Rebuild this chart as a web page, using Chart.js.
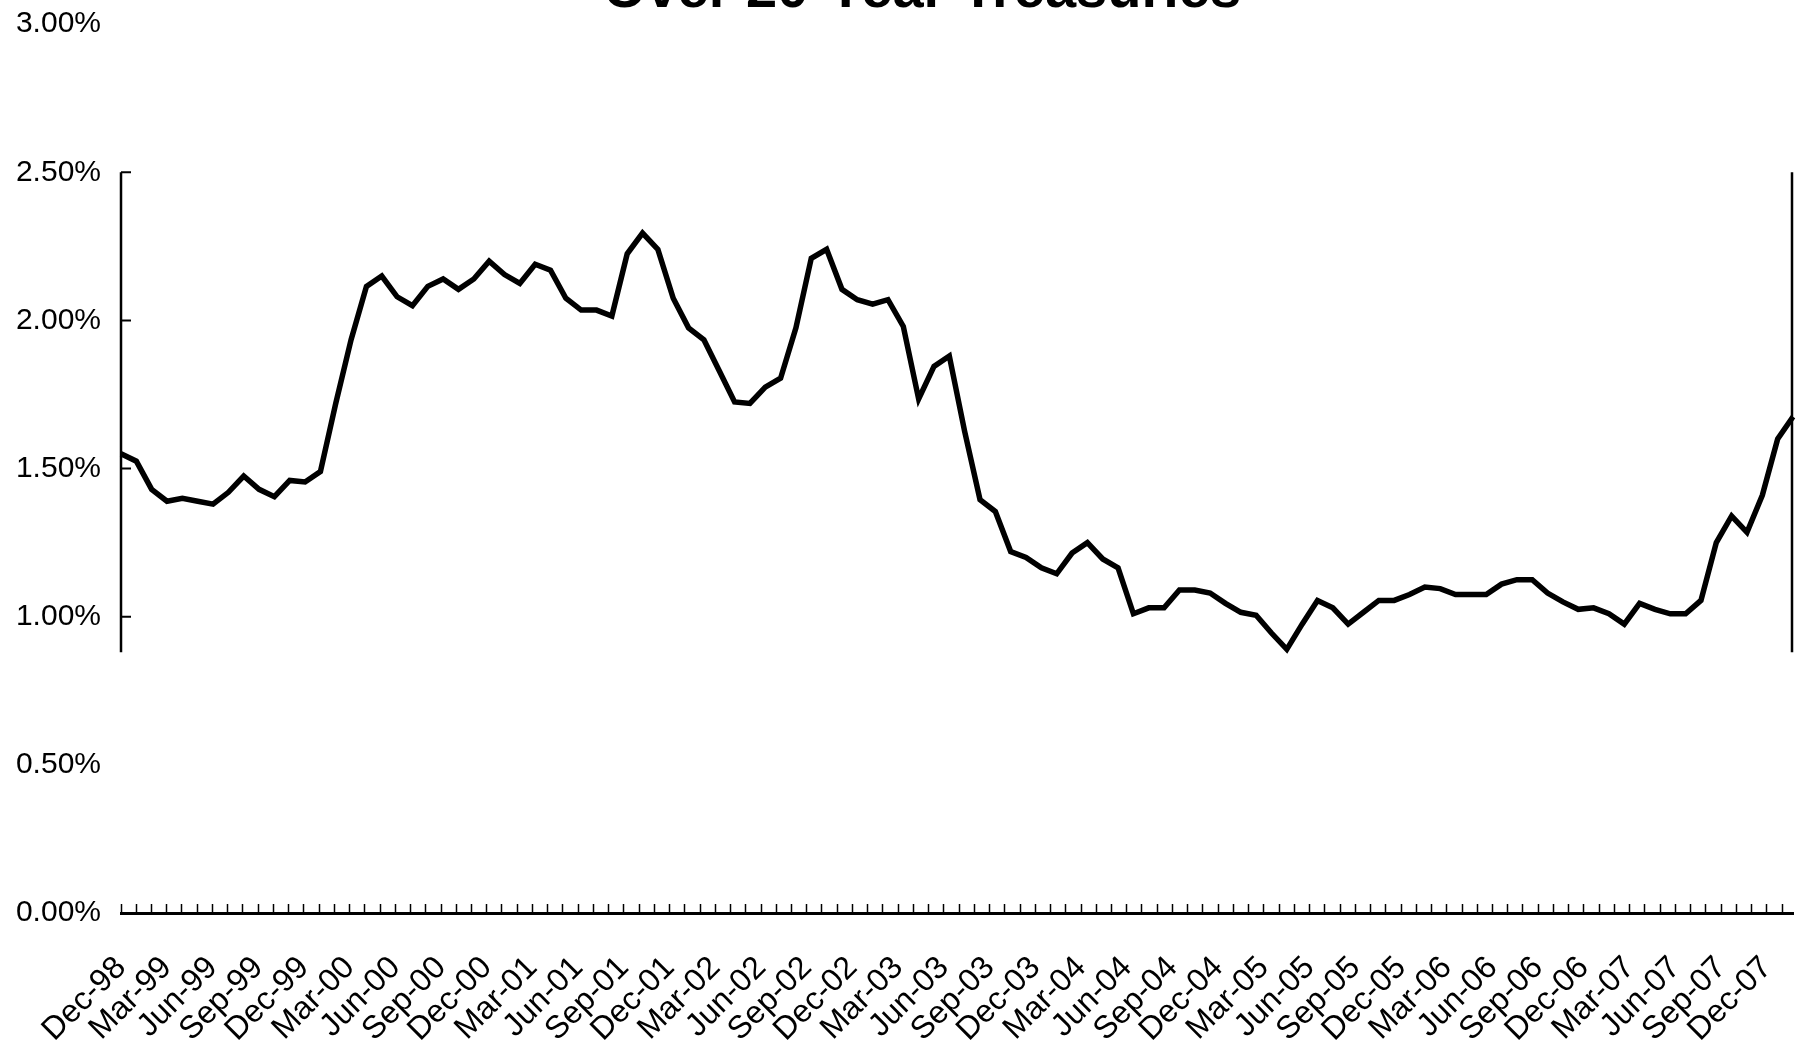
<!DOCTYPE html>
<html>
<head>
<meta charset="utf-8">
<title>Over 20-Year Treasuries</title>
<script src="https://cdn.jsdelivr.net/npm/chart.js@4.4.0/dist/chart.umd.min.js"></script>
<style>
    html, body { margin: 0; padding: 0; background: #fff; }
    #wrap { width: 1796px; height: 1045px; position: relative; }
</style>
</head>
<body>
<div id="wrap"><canvas id="lineChart"></canvas></div>
<script>
// monthly points, Dec-98 .. Jan-08
var monthNames = ['Jan', 'Feb', 'Mar', 'Apr', 'May', 'Jun', 'Jul', 'Aug', 'Sep', 'Oct', 'Nov', 'Dec'];
var startYear = 1998;
var startMonth = 11;

var spreadValues = [
    1.55, 1.525, 1.43, 1.39, 1.40, 1.39, 1.38, 1.42, 1.475, 1.43,
    1.405, 1.46, 1.455, 1.49, 1.72, 1.935, 2.115, 2.15, 2.08, 2.05,
    2.115, 2.14, 2.105, 2.14, 2.20, 2.155, 2.125, 2.19, 2.17, 2.075,
    2.035, 2.035, 2.015, 2.225, 2.295, 2.24, 2.075, 1.975, 1.935, 1.83,
    1.725, 1.72, 1.775, 1.805, 1.975, 2.21, 2.24, 2.105, 2.07, 2.055,
    2.07, 1.98, 1.735, 1.845, 1.88, 1.625, 1.395, 1.355, 1.22, 1.20,
    1.165, 1.145, 1.215, 1.25, 1.195, 1.165, 1.01, 1.03, 1.03, 1.09,
    1.09, 1.08, 1.045, 1.015, 1.005, 0.945, 0.89, 0.975, 1.055, 1.03,
    0.975, 1.015, 1.055, 1.055, 1.075, 1.10, 1.095, 1.075, 1.075, 1.075,
    1.11, 1.125, 1.125, 1.08, 1.05, 1.025, 1.03, 1.01, 0.975, 1.045,
    1.025, 1.01, 1.01, 1.055, 1.25, 1.34, 1.285, 1.41, 1.60, 1.675
];

var yMin = 0;
var yMax = 3;
var yStep = 0.5;
var axisTickValues = [2.5, 2.0, 1.5, 1.0];
var axisSpan = [2.5, 0.88];

// the printed month axis is a bit shorter than the plotted line
var monthAxisMax = 109.72;
var labelEvery = 3;

var labels = [];
for (var i = 0; i < spreadValues.length; i++) {
    var m = startMonth + i;
    var yr = (startYear + Math.floor(m / 12)) % 100;
    labels.push(monthNames[m % 12] + '-' + (yr < 10 ? '0' + yr : '' + yr));
}

var fontFamily = "'Liberation Sans', Arial, sans-serif";
var titleCenterX = 922;

// the scanned y axis only runs part of the way, with inward ticks
var partialAxes = {
    id: 'partialAxes',
    afterLayout: function(chart) {
        var tb = chart.titleBlock;
        if (tb) {
            tb.left = 2 * titleCenterX - tb.right;
        }
    },
    afterDatasetsDraw: function(chart) {
        var ctx = chart.ctx;
        var y = chart.scales.y;
        var area = chart.chartArea;
        var top = y.getPixelForValue(axisSpan[0]);
        var bottom = y.getPixelForValue(axisSpan[1]);
        ctx.save();
        ctx.strokeStyle = '#000';
        ctx.lineWidth = 2.5;
        ctx.beginPath();
        ctx.moveTo(area.left, top);
        ctx.lineTo(area.left, bottom);
        ctx.moveTo(area.right - 1, top);
        ctx.lineTo(area.right - 1, bottom);
        ctx.stroke();
        ctx.lineWidth = 2;
        ctx.beginPath();
        axisTickValues.forEach(function(v) {
            var py = y.getPixelForValue(v);
            ctx.moveTo(area.left, py);
            ctx.lineTo(area.left + 10, py);
        });
        ctx.stroke();
        ctx.restore();
    }
};

var ctx = document.getElementById('lineChart');
var chart = new Chart(ctx, {
    type: 'line',
    data: {
        labels: labels,
        datasets: [{
            label: 'Spread',
            data: spreadValues,
            borderColor: '#000',
            borderWidth: 5.5,
            pointRadius: 0,
            tension: 0,
            fill: false
        }]
    },
    options: {
        responsive: true,
        maintainAspectRatio: false,
        animation: false,
        layout: { padding: { left: 0, right: 3, top: 0, bottom: 0 } },
        plugins: {
            legend: { display: false },
            tooltip: { enabled: false },
            title: {
                display: true,
                text: 'Over 20-Year Treasuries',
                color: '#000',
                font: { family: fontFamily, size: 56, weight: 'bold' },
                padding: { top: -42, bottom: -1 }
            }
        },
        scales: {
            x: {
                display: false,
                offset: false
            },
            months: {
                type: 'linear',
                position: 'bottom',
                min: 0,
                max: monthAxisMax,
                grid: {
                    display: true,
                    drawOnChartArea: false,
                    drawTicks: true,
                    tickLength: -9,
                    tickColor: '#000',
                    tickWidth: 1.5
                },
                border: { display: true, color: '#000', width: 3 },
                ticks: {
                    stepSize: 1,
                    includeBounds: false,
                    autoSkip: false,
                    maxRotation: 45,
                    minRotation: 45,
                    padding: 45,
                    color: '#000',
                    font: { family: fontFamily, size: 32 },
                    callback: function(val) {
                        if (val % labelEvery !== 0 || val >= labels.length) return '';
                        return labels[val];
                    }
                },
                afterFit: function(scale) {
                    scale.height = 132;
                    scale.paddingLeft = 0;
                    scale.paddingRight = 0;
                }
            },
            y: {
                min: yMin,
                max: yMax,
                grid: { display: false, drawTicks: false },
                border: { display: false },
                ticks: {
                    stepSize: yStep,
                    padding: 20,
                    color: '#000',
                    font: { family: fontFamily, size: 30 },
                    callback: function(v) { return v.toFixed(2) + '%'; }
                },
                afterFit: function(scale) {
                    scale.width = 121;
                    scale.paddingTop = 0;
                    scale.paddingBottom = 0;
                }
            }
        }
    },
    plugins: [partialAxes]
});
</script>
</body>
</html>
